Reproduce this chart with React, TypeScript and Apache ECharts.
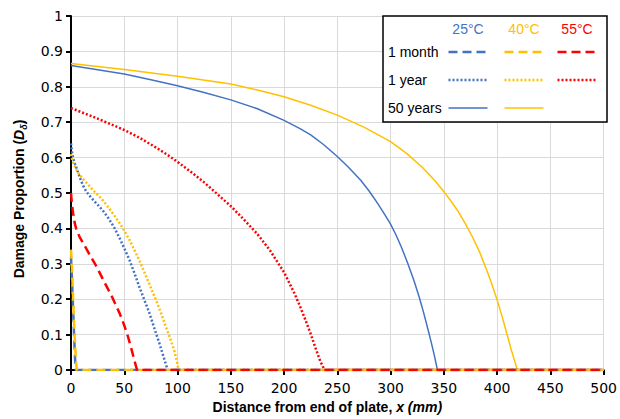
import React, { useEffect, useRef } from "react";
import * as echarts from "echarts";

// Damage proportion D_delta along the plate, x in mm
const BLUE = "#4472C4";
const YELLOW = "#FFC000";
const RED = "#FF0000";

const month25: [number, number][] = [
  [0, 0.32], [1, 0.25], [2, 0.17], [3, 0.09], [4, 0.02], [4.5, 0], [500, 0],
];
const month40: [number, number][] = [
  [0, 0.34], [1, 0.28], [2, 0.2], [3, 0.12], [4, 0.06], [5, 0.015], [5.5, 0], [500, 0],
];
const month55: [number, number][] = [
  [0, 0.5], [1, 0.465], [2, 0.443], [3.5, 0.415], [5, 0.398], [8, 0.376], [11.5, 0.358],
  [17.7, 0.325], [24, 0.292], [30, 0.256], [38, 0.21], [45.7, 0.16], [50, 0.126],
  [53.5, 0.094], [57, 0.056], [59.7, 0.025], [62, 0], [500, 0],
];
const year25: [number, number][] = [
  [0, 0.64], [1, 0.615], [2, 0.598], [3.5, 0.584], [5, 0.572], [7, 0.555], [9, 0.538],
  [11.5, 0.52], [14, 0.506], [17, 0.494], [21, 0.48], [25, 0.467], [30, 0.45],
  [36, 0.425], [41, 0.4], [45.7, 0.372], [50, 0.344], [55, 0.31], [60, 0.27],
  [64, 0.236], [69, 0.197], [73.7, 0.16], [78, 0.12], [83, 0.075], [87, 0.036],
  [90.8, 0], [500, 0],
];
const year40: [number, number][] = [
  [0, 0.61], [1, 0.596], [2, 0.586], [3.5, 0.576], [5, 0.566], [7.5, 0.554], [10, 0.544],
  [13, 0.534], [16, 0.524], [19, 0.514], [22, 0.504], [26, 0.492], [30, 0.479],
  [35, 0.46], [40, 0.439], [44.5, 0.42], [48.8, 0.4], [55, 0.367], [61, 0.33],
  [66, 0.297], [70.6, 0.264], [75, 0.232], [80, 0.196], [85, 0.157], [89, 0.122],
  [93, 0.09], [97, 0.054], [99, 0.03], [101, 0], [500, 0],
];
const year55: [number, number][] = [
  [0, 0.74], [10, 0.728], [25, 0.71], [40, 0.691], [50, 0.678], [65, 0.655], [80, 0.628],
  [90, 0.609], [100, 0.588], [112, 0.561], [125, 0.53], [137, 0.498], [150, 0.463],
  [162, 0.426], [175, 0.384], [187, 0.337], [200, 0.276], [210, 0.215], [215, 0.18],
  [220, 0.142], [225, 0.102], [230, 0.058], [234, 0.025], [238, 0], [500, 0],
];
const years50_25: [number, number][] = [
  [0, 0.86], [25, 0.848], [50, 0.836], [75, 0.82], [100, 0.803], [125, 0.784],
  [150, 0.763], [175, 0.738], [200, 0.705], [215, 0.682], [225, 0.664], [237, 0.637],
  [250, 0.603], [260, 0.574], [272, 0.536], [280, 0.505], [288, 0.47], [295, 0.437],
  [300, 0.412], [305, 0.382], [310, 0.348], [316, 0.302], [322, 0.252], [327, 0.205],
  [331, 0.162], [335, 0.116], [338, 0.08], [341, 0.042], [344, 0], [500, 0],
];
const years50_40: [number, number][] = [
  [0, 0.866], [50, 0.849], [100, 0.83], [150, 0.808], [175, 0.791], [200, 0.772],
  [225, 0.748], [250, 0.72], [275, 0.686], [300, 0.645], [315, 0.612], [330, 0.572],
  [342, 0.533], [350, 0.504], [357, 0.476], [363, 0.45], [370, 0.414], [377, 0.375],
  [384, 0.33], [390, 0.284], [395, 0.243], [400, 0.198], [405, 0.148], [409, 0.104],
  [413, 0.06], [416, 0.03], [419, 0], [500, 0],
];

const tempLabels = ["25°C", "40°C", "55°C"];
const durationLabels = ["1 month", "1 year", "50 years"];

const DASHED = [9, 5];
const DOTTED = [2, 2];
const FONT = "Liberation Sans";
const TICK_FONT = "DejaVu Sans";

const lineSeries = (
  name: string,
  data: [number, number][],
  color: string,
  type: number[] | "solid",
  width: number
) => ({
  name,
  type: "line",
  data,
  showSymbol: false,
  symbol: "none",
  smooth: false,
  lineStyle: { color, width, type, cap: "butt", join: "round" },
  silent: true,
});

export default function App() {
  const ref = useRef<HTMLDivElement>(null);

  useEffect(() => {
    document.body.style.margin = "0";
    if (!ref.current) return;
    const chart = echarts.init(ref.current, undefined, { renderer: "svg" });

    // Legend laid out as a small table: temperatures across, durations down
    const lx = 383, ly = 16, lw = 224, lh = 106;
    const colCenters = [468, 524, 577];
    const rowY = [52, 80, 108];
    const colors = [BLUE, YELLOW, RED];
    const styles: (number[] | null)[] = [DASHED, DOTTED, null];
    const legendItems: any[] = [
      {
        type: "rect",
        shape: { x: lx, y: ly, width: lw, height: lh },
        style: { fill: "#fff", stroke: "#000", lineWidth: 1.5 },
        z: 100,
      },
    ];
    tempLabels.forEach((t, i) => {
      legendItems.push({
        type: "text",
        x: colCenters[i],
        y: 29,
        style: {
          text: t, fill: colors[i], font: `14px "${FONT}"`,
          textAlign: "center", textVerticalAlign: "middle",
        },
        z: 101,
      });
    });
    durationLabels.forEach((d, r) => {
      legendItems.push({
        type: "text",
        x: 388,
        y: rowY[r],
        style: {
          text: d, fill: "#000", font: `14px "${FONT}"`,
          textAlign: "left", textVerticalAlign: "middle",
        },
        z: 101,
      });
      for (let c = 0; c < 3; c++) {
        if (r === 2 && c === 2) continue;
        const dash = styles[r];
        legendItems.push({
          type: "line",
          shape: { x1: colCenters[c] - 19.5, y1: rowY[r], x2: colCenters[c] + 19.5, y2: rowY[r] },
          style: {
            stroke: colors[c],
            lineWidth: r === 2 ? 1.5 : 2.5,
            lineDash: dash ? dash : undefined,
          },
          z: 101,
        });
      }
    });

    chart.setOption({
      animation: false,
      grid: { left: 71, right: 13, top: 16, bottom: 49, containLabel: false },
      xAxis: {
        type: "value",
        min: 0,
        max: 500,
        interval: 50,
        name: "{b|Distance from end of plate, }{bi|x (mm)}",
        nameLocation: "middle",
        nameGap: 30,
        nameTextStyle: {
          padding: [0, 20, 0, 0],
          rich: {
            b: { fontFamily: FONT, fontWeight: "bold", fontSize: 14, color: "#000" },
            bi: { fontFamily: FONT, fontWeight: "bold", fontStyle: "italic", fontSize: 14, color: "#000" },
          },
        },
        axisLine: { show: true, onZero: false, lineStyle: { color: "#000", width: 2 } },
        axisTick: { show: true, inside: false, length: 5, lineStyle: { color: "#000", width: 2 } },
        axisLabel: { fontFamily: TICK_FONT, fontSize: 14, color: "#000", margin: 11 },
        splitLine: { show: true, lineStyle: { color: "#d9d9d9", width: 1 } },
      },
      yAxis: {
        type: "value",
        min: 0,
        max: 1,
        interval: 0.1,
        name: "{b|Damage Proportion (}{bi|D}{s|δ}{b|)}",
        nameLocation: "middle",
        nameGap: 43,
        nameRotate: 90,
        nameTextStyle: {
          padding: [0, 12, 0, 0],
          rich: {
            b: { fontFamily: FONT, fontWeight: "bold", fontSize: 14, color: "#000", lineHeight: 19 },
            bi: { fontFamily: FONT, fontWeight: "bold", fontStyle: "italic", fontSize: 14, color: "#000", lineHeight: 19 },
            s: { fontFamily: FONT, fontWeight: "bold", fontStyle: "italic", fontSize: 9, color: "#000", lineHeight: 19, verticalAlign: "bottom" },
          },
        },
        axisLine: { show: true, lineStyle: { color: "#000", width: 2 } },
        axisTick: { show: true, inside: false, length: 5, lineStyle: { color: "#000", width: 2 } },
        axisLabel: { fontFamily: TICK_FONT, fontSize: 14, color: "#000", margin: 8 },
        splitLine: { show: true, lineStyle: { color: "#d9d9d9", width: 1 } },
      },
      series: [
        lineSeries("50 years 25°C", years50_25, BLUE, "solid", 1.5),
        lineSeries("50 years 40°C", years50_40, YELLOW, "solid", 1.5),
        lineSeries("1 year 25°C", year25, BLUE, DOTTED, 2.5),
        lineSeries("1 year 40°C", year40, YELLOW, DOTTED, 2.5),
        lineSeries("1 year 55°C", year55, RED, DOTTED, 2.5),
        lineSeries("1 month 25°C", month25, BLUE, DASHED, 2.5),
        lineSeries("1 month 40°C", month40, YELLOW, DASHED, 2.5),
        lineSeries("1 month 55°C", month55, RED, DASHED, 2.5),
      ],
      graphic: legendItems,
    });

    return () => chart.dispose();
  }, []);

  return <div ref={ref} style={{ width: 620, height: 419 }} />;
}
